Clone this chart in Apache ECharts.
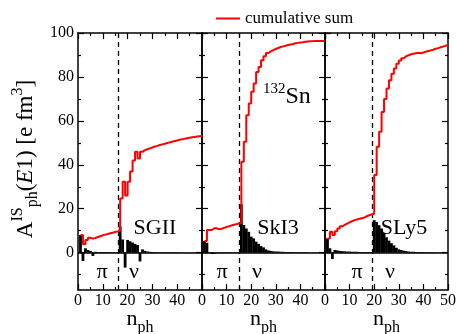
<!DOCTYPE html>
<html>
<head>
<meta charset="utf-8">
<script src="https://cdn.jsdelivr.net/npm/echarts@6/dist/echarts.min.js"></script>
<style>
  html, body { margin: 0; padding: 0; background: #fff; }
  #chart { width: 459px; height: 334px; }
</style>
</head>
<body>
<div id="chart"></div>
<script>
const FONT = 'Liberation Serif';

// models in the three panels
const models = ['SGII', 'SkI3', 'SLy5'];
// proton / neutron separation (n_ph)
const dividers = [16.4, 15.2, 19.4];

// single ph contributions, n_ph = 1..49
const barsSGII = [8, -3.8, 2, 1.2, 0.8, -1.5, 0.4, 0.3, 0.3, 0.3, 0.3, 0.3, 0.2, 0.2, 0.2, 0.2,
  12, 6, -6.8, 5.8, 5.2, 4.6, 4, 3.5, -4, 1.5, 0.8, 0.5, 0.4, 0.3,
  0.3, 0.2, 0.2, 0.2, 0.2, 0.2, 0.2, 0.2, 0.2, 0.2, 0.1, 0.1, 0.1, 0.1, 0.1, 0.1, 0.1, 0.1, 0.1];
const barsSkI3 = [5.3, 4.5, 0.3, -0.6, -0.5, -0.3, 0.2, 0.2, 0.2, 0.2, 0.2, 0.2, 0.2, 0.2, 0.2,
  22, 12.6, 11, 9.5, 7.3, 6.5, 5, 4, 3, 2.4, 1.5, 1, 0.8, 0.6, 0.5,
  0.5, 0.4, 0.4, 0.3, 0.3, 0.3, 0.3, 0.2, 0.2, 0.2, 0.2, 0.2, 0.2, 0.1, 0.1, 0.1, 0.1, 0.1, 0.1];
const barsSLy5 = [6.5, 2, -2.9, 1.2, 1, 0.8, 0.7, 0.6, 0.5, 0.5, 0.4, 0.4, 0.4, 0.3, 0.3, 0.3, 0.3, 0.3, 0.3,
  14.8, 14, 12.5, 11, 9, 7, 5.5, 4.3, 3.3, 2.2, 1.5, 1.2, 0.9, 0.7, 0.5, 0.4,
  0.4, 0.3, 0.3, 0.3, 0.3, 0.2, 0.2, 0.2, 0.2, 0.1, 0.1, 0.1, 0.1, 0.1];

// cumulative sum, n_ph = 1..50
const cumSGII = [8, 3.8, 5.8, 6.8, 6.4, 6.7, 7.1, 7.5, 7.9, 8.2, 8.5, 8.8, 9.1, 9.4, 9.7, 10,
  24.7, 32.3, 26, 32.3, 37, 42, 45.9, 42.9, 45.9, 46.7, 47.1, 47.5, 47.9, 48.3,
  48.6, 49, 49.3, 49.6, 49.9, 50.2, 50.5, 50.8, 51.1, 51.4, 51.6, 51.9, 52.1, 52.3, 52.5, 52.7, 52.9, 53, 53.1, 53.2];
const cumSkI3 = [5.3, 10.3, 10.3, 11.1, 11.1, 10.6, 10.9, 11.3, 11.7, 12, 12.4, 12.7, 13, 13.3, 13.6,
  41.4, 50.5, 62.6, 67.9, 73.2, 77, 82.3, 84.5, 87.6, 89.4, 90.9, 91.6, 92.2, 92.7, 93.2,
  93.6, 93.9, 94.2, 94.5, 94.8, 95, 95.3, 95.5, 95.7, 95.8, 96, 96.1, 96.2, 96.3, 96.4, 96.4, 96.4, 96.4, 96.4, 96.4];
const cumSLy5 = [6.5, 9.5, 8, 9.8, 11, 12, 12.6, 13.2, 13.8, 14.3, 14.8, 15.1, 15.4, 15.7, 16, 16.6, 17, 17.4, 17.8,
  35.3, 48.2, 55, 64, 70, 74.7, 78.5, 81.5, 83.8, 86, 87.5, 88.5, 89.4, 89.9, 90.3, 90.6, 90.8, 91, 90.8, 91.1, 91.5,
  91.8, 92.1, 92.4, 92.8, 93.1, 93.5, 93.8, 94.2, 94.5, 94.8];

const bars = [barsSGII, barsSkI3, barsSLy5];
const cums = [cumSGII, cumSkI3, cumSLy5];

const yMajor = [0, 20, 40, 60, 80, 100];
const yMinor = [-10, 10, 30, 50, 70, 90];

const chart = echarts.init(document.getElementById('chart'));

const grids = [
  { left: 78, width: 124, top: 33, height: 257, outerBoundsMode: 'none' },
  { left: 202, width: 123, top: 33, height: 257, outerBoundsMode: 'none' },
  { left: 325, width: 123, top: 33, height: 257, outerBoundsMode: 'none' }
];

const lineStyle = { color: '#000', width: 1.5 };
const xAxis = [];
const yAxis = [];
const series = [];

grids.forEach((g, i) => {
  ['bottom', 'top'].forEach(pos => {
    xAxis.push({
      type: 'value', gridIndex: i, position: pos, min: 0, max: 50, interval: 10,
      axisLine: { show: true, onZero: false, lineStyle },
      axisTick: { inside: true, length: 6, lineStyle: { color: '#000', width: 1.2 } },
      minorTick: { show: true, splitNumber: 2, length: 3, lineStyle: { color: '#000', width: 1.2 } },
      splitLine: { show: false },
      axisLabel: {
        show: pos === 'bottom', margin: 3, color: '#000', fontFamily: FONT, fontSize: 16,
        formatter: v => (v === 50 && i < 2) ? '' : String(v)
      },
      name: pos === 'bottom' ? '{n|n}{s|ph}' : '',
      nameLocation: 'middle', nameGap: 12, nameMoveOverlap: false,
      nameTextStyle: {
        rich: {
          n: { fontFamily: FONT, fontSize: 22, color: '#000' },
          s: { fontFamily: FONT, fontSize: 16, color: '#000', padding: [18, 0, 0, 0] }
        }
      }
    });
  });
  ['left', 'right'].forEach(pos => {
    [[yMajor, 6], [yMinor, 3]].forEach(([vals, len], k) => {
      yAxis.push({
        type: 'value', gridIndex: i, position: pos, min: -17, max: 100,
        axisLine: { show: k === 0, onZero: false, lineStyle },
        axisTick: { show: true, inside: true, length: len, customValues: vals,
          lineStyle: { color: '#000', width: 1.2 } },
        splitLine: { show: false },
        axisLabel: {
          show: i === 0 && pos === 'left' && k === 0, customValues: yMajor,
          margin: 4, color: '#000', fontFamily: FONT, fontSize: 16
        }
      });
    });
  });

  series.push({
    type: 'bar', xAxisIndex: 2 * i, yAxisIndex: 4 * i,
    data: bars[i].map((v, j) => [j + 1, v]),
    barWidth: 2.8,
    itemStyle: { color: '#000' },
    markLine: {
      silent: true, symbol: 'none', label: { show: false },
      data: [
        { yAxis: 0, lineStyle: { type: 'solid', width: 1.5, color: '#000' } },
        { xAxis: dividers[i], lineStyle: { type: [5, 4], width: 1.3, color: '#000' } }
      ]
    }
  });
  series.push({
    type: 'line', name: 'cumulative sum', xAxisIndex: 2 * i, yAxisIndex: 4 * i,
    data: cums[i].map((v, j) => [j + 1, v]),
    step: 'end', symbol: 'none', z: 5,
    lineStyle: { color: '#ff0000', width: 2 },
    itemStyle: { color: '#ff0000' }
  });
});

const txt = (x, y, text, size) => ({
  type: 'text', x, y, z: 100,
  style: { text, fontFamily: FONT, fontSize: size, fill: '#000', align: 'center', verticalAlign: 'middle' }
});

const graphic = [
  txt(155, 228, models[0], 22),
  txt(278, 228, models[1], 22),
  txt(404, 228, models[2], 22),
  txt(102, 272, 'π', 22), txt(134, 272, 'ν', 22),
  txt(222, 272, 'π', 22), txt(257, 272, 'ν', 22),
  txt(357, 272, 'π', 22), txt(390, 272, 'ν', 22),
  {
    type: 'text', x: 263, y: 97, z: 100,
    style: {
      text: '{s|132}{b|Sn}', align: 'left', verticalAlign: 'middle',
      rich: {
        s: { fontFamily: FONT, fontSize: 15, fill: '#000', padding: [0, 0, 16, 0] },
        b: { fontFamily: FONT, fontSize: 24, fill: '#000' }
      }
    }
  },
  {
    type: 'text', x: 26, y: 159, rotation: Math.PI / 2, z: 100,
    style: {
      text: '{a|A}{sup|IS}{sub|ph}{a|(}{i|E}{a|1) [e fm}{sup|3}{a|]}',
      align: 'center', verticalAlign: 'middle',
      rich: {
        a: { fontFamily: FONT, fontSize: 23, fill: '#000' },
        i: { fontFamily: FONT, fontSize: 23, fontStyle: 'italic', fill: '#000' },
        sup: { fontFamily: FONT, fontSize: 16, fill: '#000', padding: [0, 0, 16, 0] },
        sub: { fontFamily: FONT, fontSize: 16, fill: '#000', padding: [14, 0, 0, 0] }
      }
    }
  }
];

chart.setOption({
  animation: false,
  backgroundColor: '#fff',
  grid: grids,
  legend: {
    data: [{ name: 'cumulative sum', icon: 'rect' }], left: 211, top: 5,
    itemWidth: 24, itemHeight: 2, itemGap: 6,
    textStyle: { fontFamily: FONT, fontSize: 17, color: '#000' }
  },
  xAxis, yAxis, series, graphic
});
</script>
</body>
</html>
